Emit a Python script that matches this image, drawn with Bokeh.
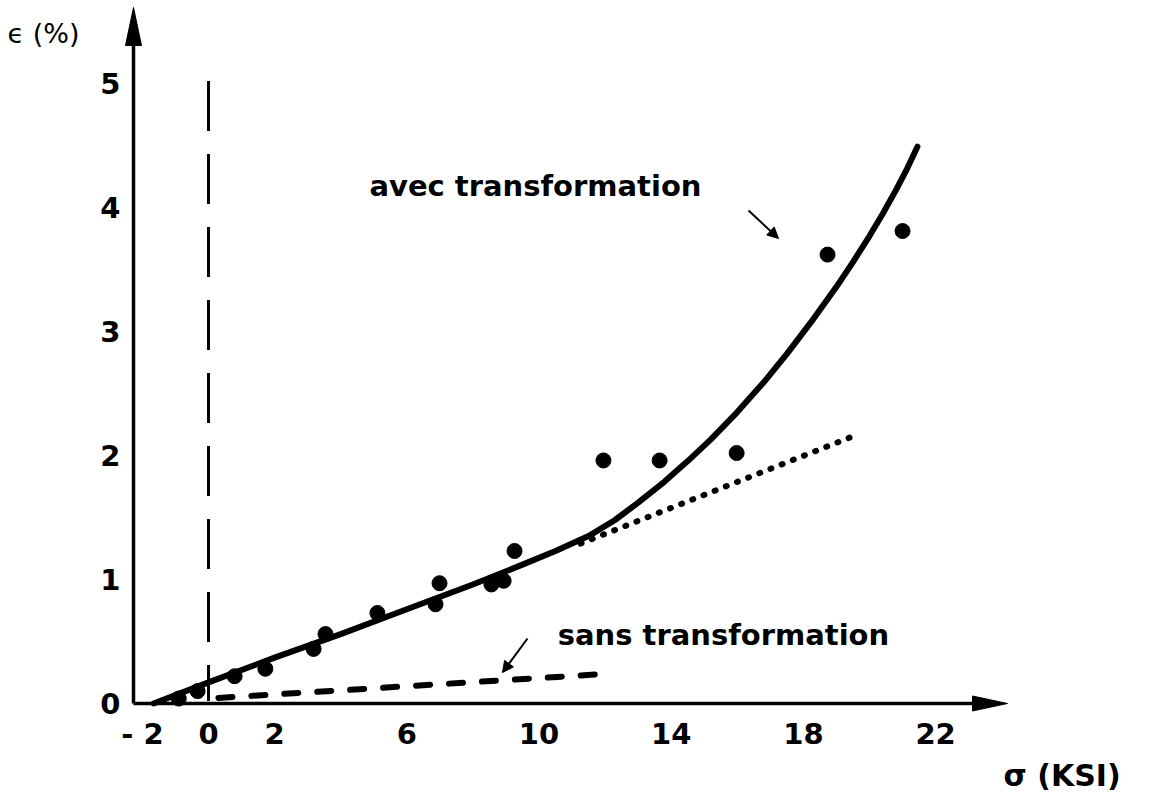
from bokeh.plotting import figure
from bokeh.models import Range1d, ColumnDataSource, Arrow, NormalHead
from bokeh.core.properties import value
from bokeh.embed import file_html
from bokeh.resources import INLINE

# ---------------- data ----------------
x_ticks = [-2, 0, 2, 6, 10, 14, 18, 22]
x_tick_labels = ["- 2", "0", "2", "6", "10", "14", "18", "22"]
y_ticks = [0, 1, 2, 3, 4, 5]
y_tick_labels = ["0", "1", "2", "3", "4", "5"]

# measured points (sigma in KSI, epsilon in %)
point_sigma = [-0.9, -0.33, 0.79, 1.72, 3.18, 3.54, 5.11, 6.87, 6.99, 8.56, 8.93, 9.26,
               11.95, 13.65, 15.98, 18.73, 21.0]
point_eps = [0.04, 0.10, 0.22, 0.28, 0.44, 0.56, 0.73, 0.80, 0.97, 0.96, 0.99, 1.23,
             1.96, 1.96, 2.02, 3.62, 3.81]

# "avec transformation" curve
avec_sigma = [-1.66, 0.0, 2.0, 4.0, 6.0, 8.0, 9.5, 10.5, 11.5, 12.3, 13.0, 13.8, 14.5, 15.2,
              16.0, 16.8, 17.5, 18.3, 19.0, 19.5, 20.0, 20.4, 20.8, 21.15, 21.45]
avec_eps = [0.00, 0.17, 0.37, 0.56, 0.76, 0.96, 1.12, 1.23, 1.35, 1.48, 1.62, 1.79, 1.955, 2.13,
            2.35, 2.59, 2.82, 3.10, 3.36, 3.56, 3.77, 3.95, 4.14, 4.32, 4.49]

# linear extrapolation (dotted)
lin_sigma = [11.26, 19.55]
lin_eps = [1.29, 2.16]

# "sans transformation" (dashed)
sans_sigma = [0.3, 12.1]
sans_eps = [0.045, 0.24]

# sigma = 0 reference (long dashes)
zero_sigma = [0.0, 0.0]
zero_eps = [5.02, 0.02]

# ---------------- layout helpers ----------------
W, H = 1150, 796
SX, SY = 33.05, 124.0          # px per unit
X0 = -208.0 / SX               # page x = 0  <-> sigma X0
Y1 = 703.0 / SY                # page y = 0  <-> eps Y1


def px_x(page_x):
    return X0 + page_x / SX


def px_y(page_y):
    return Y1 - page_y / SY


p = figure(width=W, height=H,
           x_range=Range1d(X0, X0 + W / SX), y_range=Range1d(Y1 - H / SY, Y1),
           output_backend="svg", toolbar_location=None,
           x_axis_location=None, y_axis_location=None, min_border=0,
           outline_line_color=None, background_fill_color="white",
           border_fill_color="white")
p.xgrid.visible = False
p.ygrid.visible = False

INK = "black"
AX_SIG = px_x(133)        # position of the vertical axis
AX_TOP = px_y(7)          # tip of vertical arrow
AX_RIGHT = px_x(1007)     # tip of horizontal arrow

# axes lines
p.line([AX_SIG, AX_SIG], [0, AX_TOP - 30 / SY], line_width=3.5, color=INK)
p.line([AX_SIG, AX_RIGHT - 30 / SX], [0, 0], line_width=3.5, color=INK)
# slender arrow heads
p.patch([AX_SIG, AX_SIG - 8 / SX, AX_SIG + 8 / SX],
        [AX_TOP, AX_TOP - 38 / SY, AX_TOP - 38 / SY], color=INK, line_width=1)
p.patch([AX_RIGHT, AX_RIGHT - 35 / SX, AX_RIGHT - 35 / SX],
        [0, 7.5 / SY, -7.5 / SY], color=INK, line_width=1)

# tick labels
TICK_FONT = value("DejaVu Sans")
xs = ColumnDataSource(dict(x=x_ticks, y=[px_y(733)] * len(x_ticks), t=x_tick_labels))
p.text(x="x", y="y", text="t", source=xs, text_font=TICK_FONT, text_font_style="bold",
       text_font_size="29px", text_align="center", text_baseline="middle", text_color=INK)
ys = ColumnDataSource(dict(x=[AX_SIG] * len(y_ticks), y=y_ticks, t=y_tick_labels))
p.text(x="x", y="y", text="t", source=ys, text_font=TICK_FONT, text_font_style="bold",
       text_font_size="29px", text_align="right", text_baseline="middle",
       x_offset=-13, text_color=INK)

# sigma = 0 reference
p.line(zero_sigma, zero_eps, line_width=3, color=INK, line_dash="50 23")

# curves
p.line(lin_sigma, lin_eps, line_width=6, color=INK, line_dash="1 11", line_cap="round")
p.line(sans_sigma, sans_eps, line_width=6, color=INK, line_dash="14 19", line_cap="round")
p.line(avec_sigma, avec_eps, line_width=6, color=INK, line_join="round", line_cap="round")

# points
p.scatter(point_sigma, point_eps, size=15, color=INK)

# annotation arrows
p.add_layout(Arrow(x_start=px_x(748), y_start=px_y(210), x_end=px_x(778), y_end=px_y(238),
                   line_width=2, line_color=INK,
                   end=NormalHead(size=11, fill_color=INK, line_color=INK)))
p.add_layout(Arrow(x_start=px_x(527), y_start=px_y(638), x_end=px_x(502), y_end=px_y(672),
                   line_width=2, line_color=INK,
                   end=NormalHead(size=11, fill_color=INK, line_color=INK)))

# texts
p.text(x=[px_x(540)], y=[px_y(185)], text=["avec  transformation"],
       text_font=value("DejaVu Sans"), text_font_style="bold", text_font_size="29px",
       text_align="center", text_baseline="alphabetic", text_color=INK)
p.text(x=[px_x(728)], y=[px_y(634)], text=["sans  transformation"],
       text_font=value("DejaVu Sans"), text_font_style="bold", text_font_size="29px",
       text_align="center", text_baseline="alphabetic", text_color=INK)
p.text(x=[px_x(7)], y=[px_y(33)], text=["ϵ (%)"],
       text_font=value("DejaVu Sans"), text_font_size="27px",
       text_align="left", text_baseline="alphabetic", text_color=INK)
p.text(x=[px_x(1003)], y=[px_y(775)], text=["σ (KSI)"],
       text_font=value("DejaVu Sans"), text_font_style="bold", text_font_size="30px",
       text_align="left", text_baseline="alphabetic", text_color=INK)

open("out.html", "w").write(file_html(p, INLINE))
